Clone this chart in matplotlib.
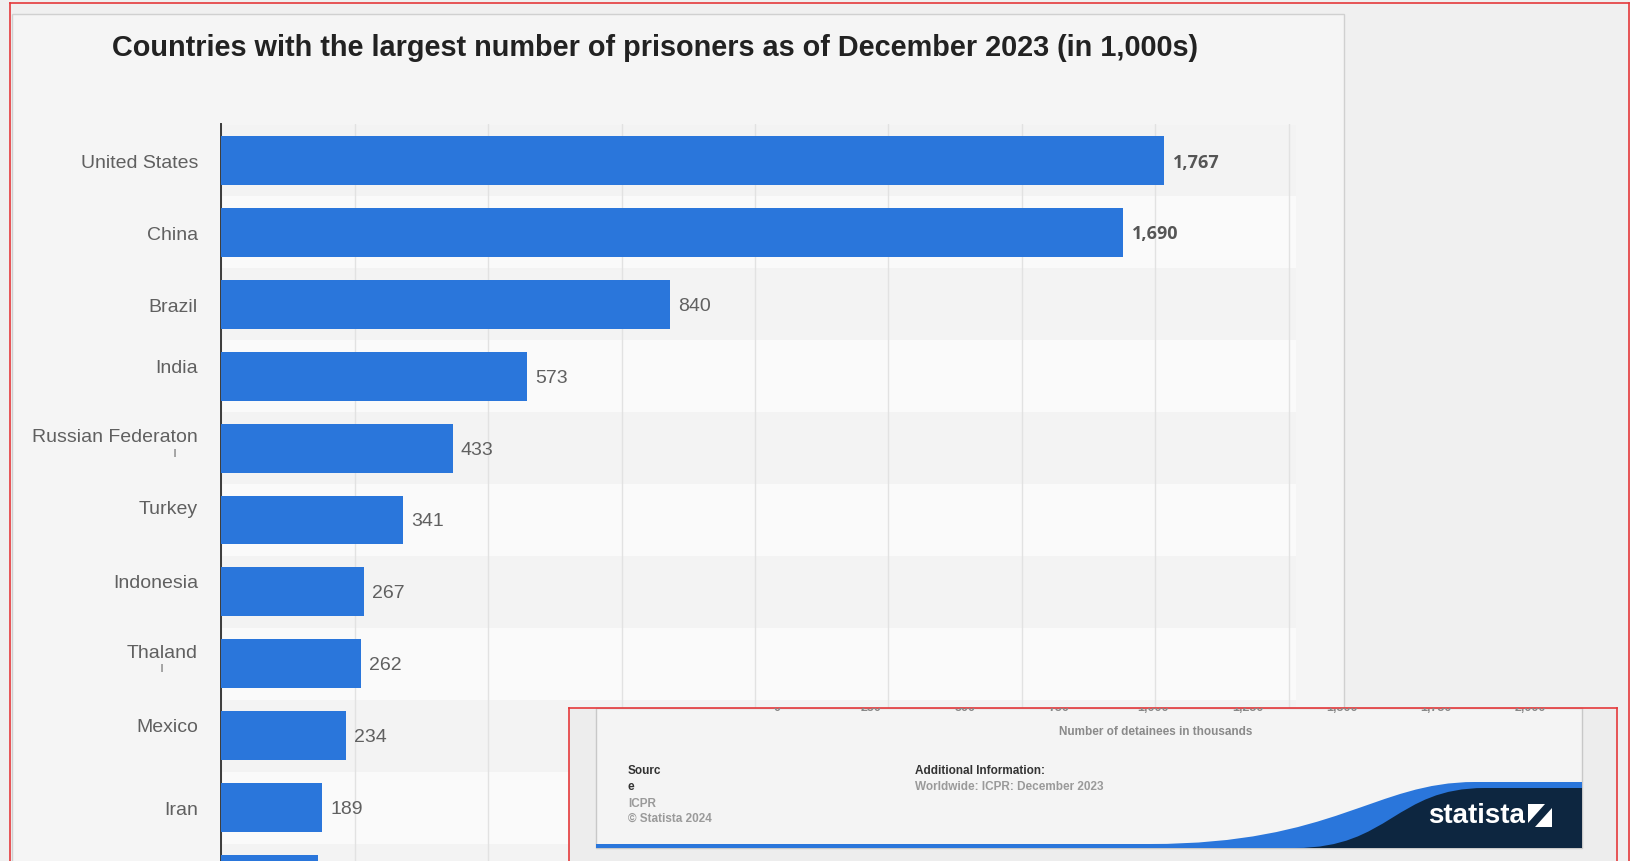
import numpy as np
import matplotlib
matplotlib.use('Agg')
import matplotlib.pyplot as plt
from matplotlib.patches import Rectangle, PathPatch
from matplotlib.path import Path
from matplotlib.transforms import ScaledTranslation
from matplotlib import font_manager

# ------------------------------------------------------------
# Data
# ------------------------------------------------------------
countries = ['United States', 'China', 'Brazil', 'India', 'Russian Federaton',
             'Turkey', 'Indonesia', 'Thaland', 'Mexico', 'Iran', '']
prisoners = [1767, 1690, 840, 573, 433, 341, 267, 262, 234, 189, 181]
value_labels = ['1,767', '1,690', '840', '573', '433', '341', '267', '262',
                '234', '189', '181']
bold_values = [True, True, False, False, False, False, False, False, False,
               False, False]
# small vertical shift of each country label (pixels, up is positive)
label_shift = [0, 0, 0, 11, 14, 14, 11, 13, 11, 0, 0]

footer_ticks = [0, 250, 500, 750, 1000, 1250, 1500, 1750, 2000]
footer_tick_labels = ['0', '250', '500', '750', '1,000', '1,250', '1,500',
                      '1,750', '2,000']

TITLE = 'Countries with the largest number of prisoners as of December 2023 (in 1,000s)'

W, H = 1631, 862
BLUE = '#2a76db'
NAVY = '#0d2640'
RED = '#e5393b'
SANS = 'Liberation Sans'

installed = {f.name for f in font_manager.fontManager.ttflist}
NARROW = next((f for f in ['Liberation Sans Narrow', 'DejaVu Sans Condensed']
               if f in installed), SANS)


def box(x0, y0, x1, y1):
    """pixel box (origin top-left) -> figure fraction rect"""
    return [x0 / W, 1 - y1 / H, (x1 - x0) / W, (y1 - y0) / H]


fig = plt.figure(figsize=(W / 100, H / 100), dpi=100)
fig.patch.set_facecolor('#f0f0f0')

# ------------------------------------------------------------
# Background card + title
# ------------------------------------------------------------
bg = fig.add_axes([0, 0, 1, 1], zorder=0)
bg.set_xlim(0, W)
bg.set_ylim(H, 0)
bg.axis('off')
bg.add_patch(Rectangle((12.5, 14.5), 1332, 870, fc='#f5f5f5', ec='#d0d0d0', lw=1))
bg.plot([10, 10], [4, H], color=RED, lw=1.2)
bg.plot([1629.5, 1629.5], [4, H], color=RED, lw=1.2)
bg.plot([10, 1629.5], [4, 4], color=RED, lw=1.2)
bg.text(112, 48.5, TITLE, fontsize=20.8, fontweight='bold', color='#222222',
        ha='left', va='center', family=SANS)

# ------------------------------------------------------------
# Main bar chart
# ------------------------------------------------------------
ax = fig.add_axes(box(221.5, 125, 1296, H), zorder=1)
ax.set_facecolor('none')
y = np.arange(len(countries))
for i in y:
    ax.axhspan(i - 0.5, i + 0.5, color='#f3f3f3' if i % 2 == 0 else '#fafafa',
               zorder=0, lw=0)
ax.barh(y, prisoners, height=0.68, color=BLUE, zorder=3)

ax.set_xticks(footer_ticks)
ax.tick_params(axis='x', length=0, labelbottom=False)
ax.grid(axis='x', color='#e2e2e2', lw=1)
ax.set_axisbelow(True)
for s in ['top', 'right', 'bottom']:
    ax.spines[s].set_visible(False)
ax.spines['left'].set_color('#3a3a3a')
ax.spines['left'].set_linewidth(1.4)

ax.set_yticks(y, countries)
ax.tick_params(axis='y', length=0, pad=17, labelsize=14, labelcolor='#606060')
for lab, dy in zip(ax.get_yticklabels(), label_shift):
    lab.set_fontfamily(SANS)
    lab.set_transform(lab.get_transform() + ScaledTranslation(0, dy / 100, fig.dpi_scale_trans))

# limits after the ticks, so set_yticks cannot widen them
ax.set_xlim(0, 2014)
ax.set_ylim(9.743, -0.508)

# stray glyphs under two labels, as in the picture
ax.annotate('ı', xy=(0, 4), xytext=(-47, -4), textcoords='offset pixels',
            ha='center', va='center', fontsize=10, color='#7a7a7a', family=SANS)
ax.annotate('ı', xy=(0, 7), xytext=(-60, -3), textcoords='offset pixels',
            ha='center', va='center', fontsize=10, color='#7a7a7a', family=SANS)

for i, (v, lab, b) in enumerate(zip(prisoners, value_labels, bold_values)):
    if b:
        ax.annotate(lab, xy=(v, i), xytext=(9, -1), textcoords='offset pixels',
                    ha='left', va='center', fontsize=13, fontweight='bold',
                    color='#555555', family='Open Sans')
    else:
        ax.annotate(lab, xy=(v, i), xytext=(8, -1), textcoords='offset pixels',
                    ha='left', va='center', fontsize=14, color='#606060',
                    family=SANS)

# ------------------------------------------------------------
# Footer overlay (bottom right)
# ------------------------------------------------------------
ov = fig.add_axes([0, 0, 1, 1], zorder=5)
ov.set_xlim(0, W)
ov.set_ylim(H, 0)
ov.axis('off')
ov.patch.set_alpha(0)
ov.add_patch(Rectangle((569, 709), 1048, 160, fc='#ededed', ec='none'))
ov.add_patch(Rectangle((596, 709), 986, 140, fc='#f4f4f4', ec='#c8c8c8', lw=1))

blue_path = Path([(596, 845), (1150, 845), (1335, 845), (1375, 783), (1475, 783),
                  (1582, 783), (1582, 849), (596, 849), (596, 845)],
                 [Path.MOVETO, Path.LINETO, Path.CURVE4, Path.CURVE4, Path.CURVE4,
                  Path.LINETO, Path.LINETO, Path.LINETO, Path.CLOSEPOLY])
ov.add_patch(PathPatch(blue_path, fc=BLUE, ec='none'))
navy_path = Path([(1295, 849), (1390, 849), (1395, 789), (1485, 789),
                  (1582, 789), (1582, 849), (1295, 849)],
                 [Path.MOVETO, Path.CURVE4, Path.CURVE4, Path.CURVE4,
                  Path.LINETO, Path.LINETO, Path.CLOSEPOLY])
ov.add_patch(PathPatch(navy_path, fc=NAVY, ec='none'))

ov.text(1428, 816, 'statista', color='white', fontsize=20, fontweight='bold',
        family=NARROW, ha='left', va='center')
ov.add_patch(Rectangle((1528, 805), 24, 23, fc='white', ec='none'))
ov.add_patch(plt.Polygon([(1528, 824), (1545, 805), (1552, 805), (1552, 809),
                          (1535, 828), (1528, 828)], fc=NAVY, ec='none'))

ov.plot([569, 1617], [709, 709], color=RED, lw=1.2)
ov.plot([569, 569], [709, H], color=RED, lw=1.2)
ov.plot([1617, 1617], [709, H], color=RED, lw=1.2)

foot = dict(fontsize=8.5, fontweight='bold', family=SANS, ha='left', va='center')
ov.text(628, 771, 'Sourc', color='#333333', **foot)
ov.text(628, 787, 'e', color='#333333', **foot)
ov.text(628, 804, 'ICPR', color='#9a9a9a', **foot)
ov.text(628, 819, '© Statista 2024', color='#9a9a9a', **foot)
ov.text(915, 771, 'Additional Information:', color='#333333', **foot)
ov.text(915, 787, 'Worldwide: ICPR: December 2023', color='#9a9a9a', **foot)
ov.text(1156, 732, 'Number of detainees in thousands', color='#8a8a8a',
        fontsize=8.5, fontweight='bold', family=SANS, ha='center', va='center')

# clipped tick labels of the footer strip
px0, px1 = 777, 1530           # pixel positions of 0 and 2,000
scale = (px1 - px0) / 2000
axt = fig.add_axes(box(569, 709, 1617, H), zorder=6)
axt.set_xlim(-(px0 - 569) / scale, -(px0 - 569) / scale + (1617 - 569) / scale)
axt.set_ylim(H - 709, 0)
axt.axis('off')
axt.patch.set_alpha(0)
for t, lab in zip(footer_ticks, footer_tick_labels):
    axt.text(t, -1, lab, ha='center', va='center', fontsize=9, fontweight='bold',
             color='#888888', family=SANS, clip_on=True)

fig.savefig('out.png', dpi=100, facecolor=fig.get_facecolor())
